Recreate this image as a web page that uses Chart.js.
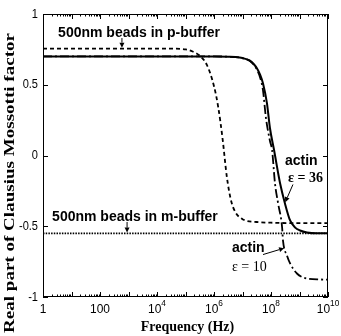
<!DOCTYPE html>
<html><head><meta charset="utf-8">
<script src="https://cdn.jsdelivr.net/npm/chart.js@4.4.0/dist/chart.umd.min.js"></script>
<style>html,body{margin:0;padding:0;background:#fff;}canvas{display:block;}</style>
</head><body>
<canvas id="c" width="341" height="336"></canvas>
<script>
// x values are log10(frequency / Hz)
const pBufX = [0, 1, 2, 3, 4, 4.5, 5, 5.25, 5.5, 5.75, 6, 6.15, 6.3, 6.45, 6.6, 6.75, 7, 7.5, 8, 9, 10];
const pBufY = [0.755, 0.755, 0.755, 0.755, 0.755, 0.755, 0.75, 0.735, 0.705, 0.64, 0.49, 0.34, 0.12, -0.15, -0.32, -0.40, -0.45, -0.47, -0.475, -0.478, -0.478];

const mBufX = [0, 10];
const mBufY = [-0.55, -0.55];

const actin36X = [0, 1, 2, 3, 4, 5, 6, 6.5, 6.9, 7.1, 7.26, 7.4, 7.51, 7.62, 7.72, 7.86, 7.96, 8.11, 8.32, 8.49, 8.67, 8.85, 9.02, 9.26, 9.6, 10];
const actin36Y = [0.70, 0.70, 0.70, 0.70, 0.70, 0.70, 0.70, 0.698, 0.692, 0.683, 0.671, 0.645, 0.615, 0.57, 0.509, 0.367, 0.198, 0.035, -0.198, -0.339, -0.459, -0.51, -0.53, -0.544, -0.55, -0.55];

const actin10X = [0, 1, 2, 3, 4, 5, 6, 6.5, 6.9, 7.1, 7.26, 7.4, 7.51, 7.62, 7.72, 7.82, 7.96, 8.04, 8.14, 8.25, 8.39, 8.42, 8.56, 8.67, 8.91, 9.26, 9.72, 10];
const actin10Y = [0.70, 0.70, 0.70, 0.70, 0.70, 0.70, 0.70, 0.698, 0.692, 0.682, 0.668, 0.64, 0.605, 0.55, 0.459, 0.269, 0.106, 0.035, -0.198, -0.339, -0.509, -0.60, -0.707, -0.763, -0.834, -0.869, -0.876, -0.877];

const xTickExps = [0, 2, 4, 6, 8, 10];
const xTickBase = ['1', '100', '10', '10', '10', '10'];
const xTickSup = ['', '', '4', '6', '8', '10'];
const yTickVals = [1, 0.5, 0, -0.5, -1];
const yTickLabels = ['1', '0.5', '0', '-0.5', '-1'];

const xTitle = 'Frequency (Hz)';
const yTitle = 'Real part of Clausius Mossotti factor';

const SANS = '"Liberation Sans", Arial, sans-serif';
const SERIF = '"Liberation Serif", "Times New Roman", serif';

const notes = [
  {text: '500nm beads in p-buffer', x: 0.53, y: 0.862, font: 'bold 14px ' + SANS},
  {text: '500nm beads in m-buffer', x: 0.32, y: -0.438, font: 'bold 14px ' + SANS},
  {text: 'actin', x: 8.49, y: -0.042, font: 'bold 14px ' + SANS},
  {text: 'ε = 36', x: 8.6, y: -0.163, font: 'bold 14px ' + SERIF},
  {text: 'actin', x: 6.63, y: -0.657, font: 'bold 14px ' + SANS},
  {text: 'ε = 10', x: 6.63, y: -0.79, font: '14px ' + SERIF}
];
const arrows = [
  {from: [2.77, 0.83], to: [2.77, 0.762]},
  {from: [2.95, -0.47], to: [2.95, -0.545]},
  {from: [8.77, -0.205], to: [8.5, -0.33]},
  {from: [7.72, -0.70], to: [8.46, -0.655]}
];

function pts(xs, ys) { return xs.map((x, i) => ({x: x, y: ys[i]})); }

const decor = {
  id: 'decor',
  afterDraw(chart) {
    const ctx = chart.ctx, a = chart.chartArea, xs = chart.scales.x, ys = chart.scales.y;
    ctx.save();
    ctx.strokeStyle = '#000';
    ctx.fillStyle = '#000';
    ctx.lineWidth = 1;
    // frame
    ctx.strokeRect(Math.round(a.left) + 0.5, Math.round(a.top) + 0.5, Math.round(a.right - a.left) - 1, Math.round(a.bottom - a.top) - 1);
    // x ticks (major each decade, minor 2..9)
    ctx.beginPath();
    for (let d = 0; d <= 10; d++) {
      const px = Math.round(xs.getPixelForValue(d)) + 0.5;
      ctx.moveTo(px, a.bottom); ctx.lineTo(px, a.bottom - 5);
      ctx.moveTo(px, a.top); ctx.lineTo(px, a.top + 5);
      if (d < 10) {
        for (let k = 2; k <= 9; k++) {
          const pm = Math.round(xs.getPixelForValue(d + Math.log10(k))) + 0.5;
          ctx.moveTo(pm, a.bottom); ctx.lineTo(pm, a.bottom - 2.5);
          ctx.moveTo(pm, a.top); ctx.lineTo(pm, a.top + 2.5);
        }
      }
    }
    // y ticks
    yTickVals.forEach(v => {
      const py = Math.round(ys.getPixelForValue(v)) + 0.5;
      ctx.moveTo(a.left, py); ctx.lineTo(a.left + 5, py);
      ctx.moveTo(a.right, py); ctx.lineTo(a.right - 5, py);
    });
    ctx.stroke();

    // y tick labels
    ctx.font = '13px ' + SANS;
    ctx.textBaseline = 'middle';
    ctx.textAlign = 'right';
    yTickVals.forEach((v, i) => {
      const py = ys.getPixelForValue(v);
      ctx.save();
      ctx.translate(38, py);
      ctx.scale(0.85, 1);
      ctx.fillText(yTickLabels[i], 0, 0);
      ctx.restore();
    });
    // x tick labels
    ctx.textBaseline = 'alphabetic';
    ctx.textAlign = 'left';
    xTickExps.forEach((e, i) => {
      const px = xs.getPixelForValue(e);
      ctx.font = '13px ' + SANS;
      const wb = ctx.measureText(xTickBase[i]).width * 0.92;
      ctx.font = '9px ' + SANS;
      const ws = xTickSup[i] ? ctx.measureText(xTickSup[i]).width * 0.92 : 0;
      let x0 = px - (wb + ws) / 2;
      ctx.save();
      ctx.translate(x0, a.bottom + 16);
      ctx.scale(0.92, 1);
      ctx.font = '13px ' + SANS;
      ctx.fillText(xTickBase[i], 0, 0);
      if (xTickSup[i]) {
        ctx.font = '9px ' + SANS;
        ctx.fillText(xTickSup[i], wb / 0.92, -7);
      }
      ctx.restore();
    });
    // axis titles
    ctx.font = 'bold 14px ' + SERIF;
    ctx.textAlign = 'center';
    ctx.textBaseline = 'middle';
    ctx.fillText(xTitle, (a.left + a.right) / 2 + 2, 327);
    ctx.save();
    ctx.translate(10, 183);
    ctx.rotate(-Math.PI / 2);
    const wy = ctx.measureText(yTitle).width;
    ctx.scale(300 / wy, 1);
    ctx.fillText(yTitle, 0, 0);
    ctx.restore();

    // notes
    ctx.textAlign = 'left';
    ctx.textBaseline = 'middle';
    notes.forEach(n => {
      ctx.font = n.font;
      ctx.fillText(n.text, xs.getPixelForValue(n.x), ys.getPixelForValue(n.y));
    });
    // arrows
    arrows.forEach(ar => {
      const x1 = xs.getPixelForValue(ar.from[0]), y1 = ys.getPixelForValue(ar.from[1]);
      const x2 = xs.getPixelForValue(ar.to[0]), y2 = ys.getPixelForValue(ar.to[1]);
      const ang = Math.atan2(y2 - y1, x2 - x1);
      const h = 5, w = 2.5;
      ctx.beginPath();
      ctx.lineWidth = 1;
      ctx.moveTo(x1, y1);
      ctx.lineTo(x2 - h * Math.cos(ang), y2 - h * Math.sin(ang));
      ctx.stroke();
      ctx.beginPath();
      ctx.moveTo(x2, y2);
      ctx.lineTo(x2 - h * Math.cos(ang) + w * Math.sin(ang), y2 - h * Math.sin(ang) - w * Math.cos(ang));
      ctx.lineTo(x2 - h * Math.cos(ang) - w * Math.sin(ang), y2 - h * Math.sin(ang) + w * Math.cos(ang));
      ctx.closePath();
      ctx.fill();
    });
    ctx.restore();
  }
};

new Chart(document.getElementById('c'), {
  type: 'line',
  data: {
    datasets: [
      {label: '500nm beads in p-buffer', data: pts(pBufX, pBufY), borderColor: '#000', borderWidth: 1.8, borderDash: [4, 3], pointRadius: 0, cubicInterpolationMode: 'monotone', fill: false},
      {label: '500nm beads in m-buffer', data: pts(mBufX, mBufY), borderColor: '#000', borderWidth: 1.6, borderDash: [1.5, 1.2], pointRadius: 0, fill: false},
      {label: 'actin ε = 36', data: pts(actin36X, actin36Y), borderColor: '#000', borderWidth: 2, pointRadius: 0, cubicInterpolationMode: 'monotone', fill: false},
      {label: 'actin ε = 10', data: pts(actin10X, actin10Y), borderColor: '#000', borderWidth: 1.8, borderDash: [9, 3, 2, 3], pointRadius: 0, cubicInterpolationMode: 'monotone', fill: false}
    ]
  },
  options: {
    responsive: false,
    animation: false,
    devicePixelRatio: 1,
    layout: {padding: {left: 43, right: 13, top: 14, bottom: 39}},
    plugins: {legend: {display: false}, tooltip: {enabled: false}},
    scales: {
      x: {type: 'linear', min: 0, max: 10, display: false},
      y: {type: 'linear', min: -1, max: 1, display: false}
    }
  },
  plugins: [decor]
});
</script>
</body></html>
